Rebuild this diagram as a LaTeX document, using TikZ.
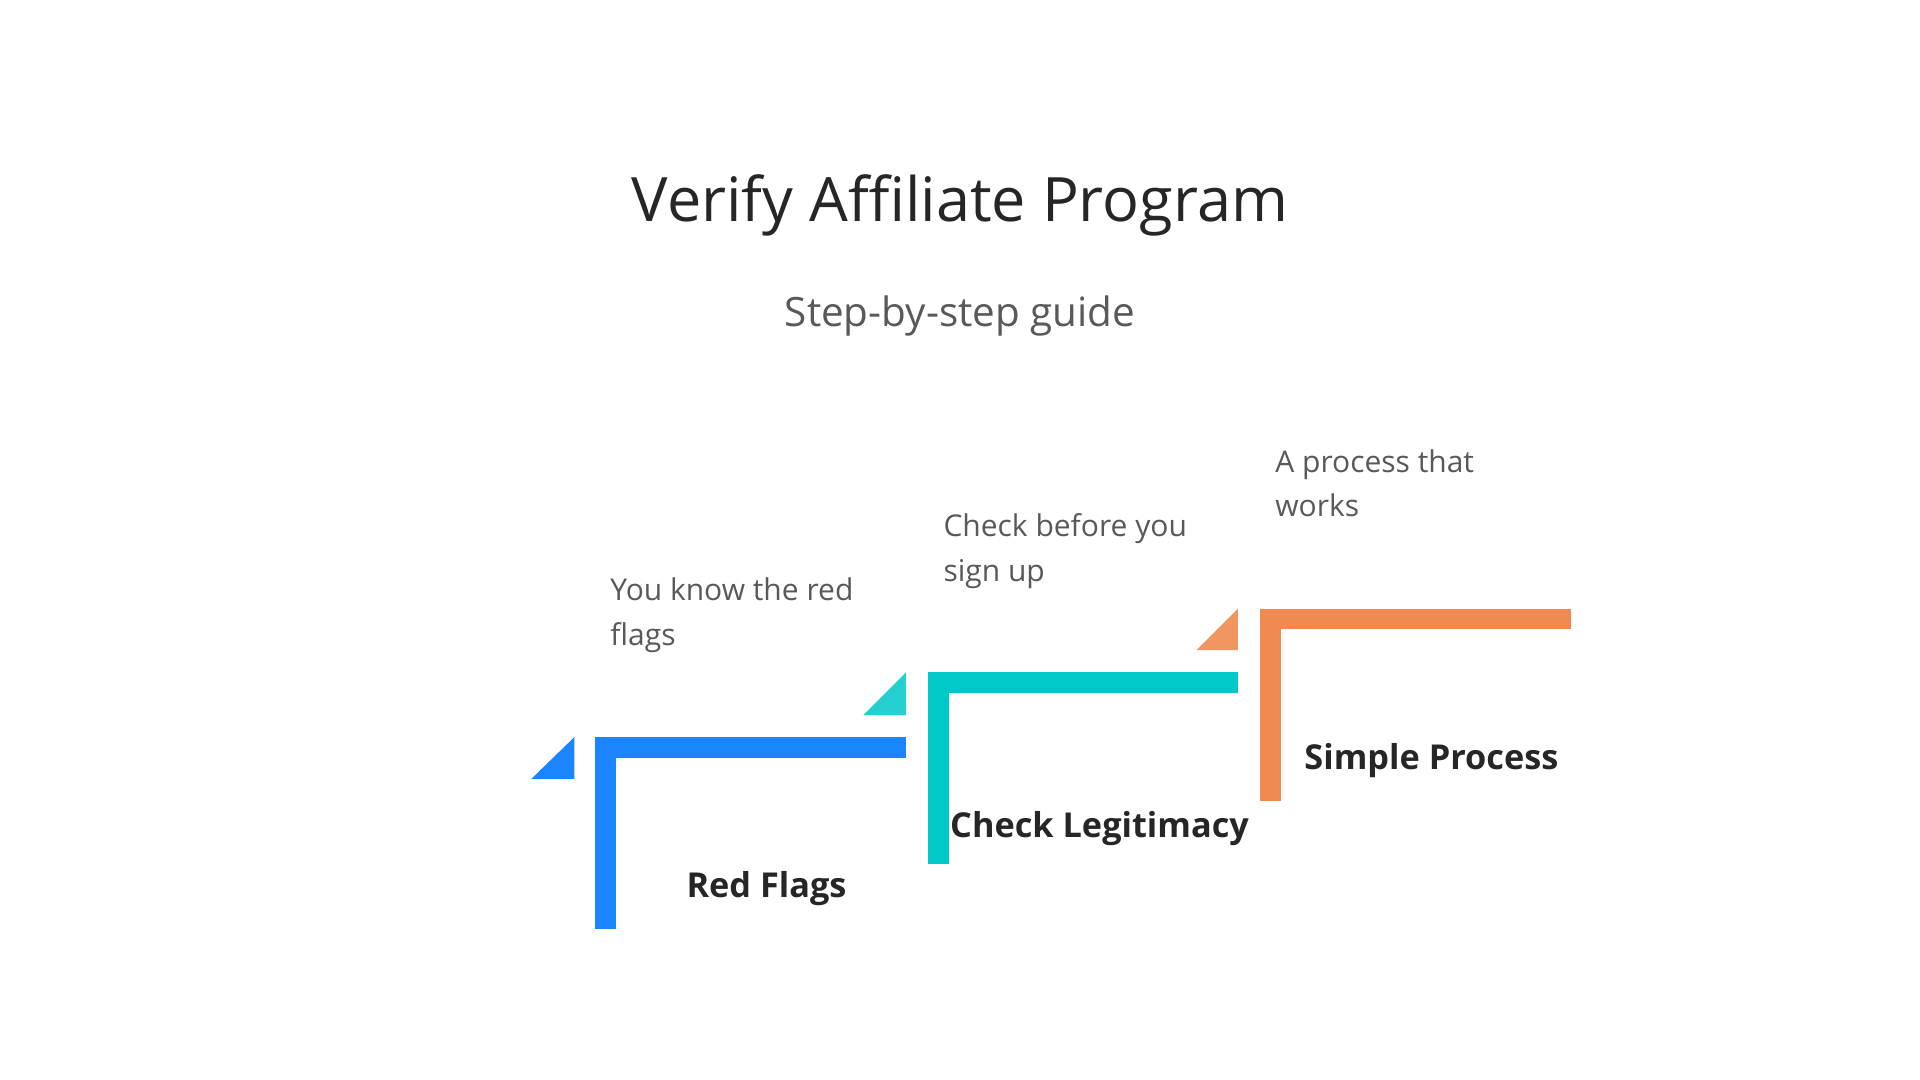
\documentclass[tikz,border=0pt]{standalone}
\usepackage{fontspec}
\setmainfont{Open Sans}
\begin{document}
\begin{tikzpicture}[x=1pt,y=-1pt,
 title/.style={font=\fontsize{50}{60}\selectfont,text=black!85},
 sub/.style={font=\fontsize{33}{40}\selectfont,text=black!65},
 desc/.style={font=\fontsize{24.5}{36.5}\selectfont,text=black!65,anchor=base west,align=left},
 lab/.style={font=\bfseries\fontsize{28}{34}\selectfont,text=black!85}]
\definecolor{cb}{HTML}{1A85FF}
\definecolor{ct}{HTML}{00C8C8}
\definecolor{co}{HTML}{F08A50}
\useasboundingbox (0,0) rectangle (1568,882);
\fill[white] (0,0) rectangle (1568,882);
\node[title] (t) at (784,168) {Verify Affiliate Program};
\node[sub] (s) at (784,258) {Step-by-step guide};
% blue
\fill[cb] (486,602) rectangle (740,619);
\fill[cb] (486,602) rectangle (503,759);
\fill[cb] (434,636) -- (469,636) -- (469,602) -- cycle;
\node[lab] (l1) at (626,726) {Red Flags};
\node[desc] (d1) at (495,527) {You know the red\\flags};
% teal
\fill[ct] (758,549) rectangle (1011,566);
\fill[ct] (758,549) rectangle (775,706);
\fill[ct!85!white] (705,584) -- (740,584) -- (740,549) -- cycle;
\node[lab] (l2) at (898,677) {Check Legitimacy};
\node[desc] (d2) at (767,475) {Check before you\\sign up};
% orange
\fill[co] (1029,497) rectangle (1283,514);
\fill[co] (1029,497) rectangle (1046,654);
\fill[co!90!white] (977,531) -- (1011,531) -- (1011,497) -- cycle;
\node[lab] (l3) at (1169,621) {Simple Process};
\node[desc] (d3) at (1038,422) {A process that\\works};
\end{tikzpicture}
\end{document}
